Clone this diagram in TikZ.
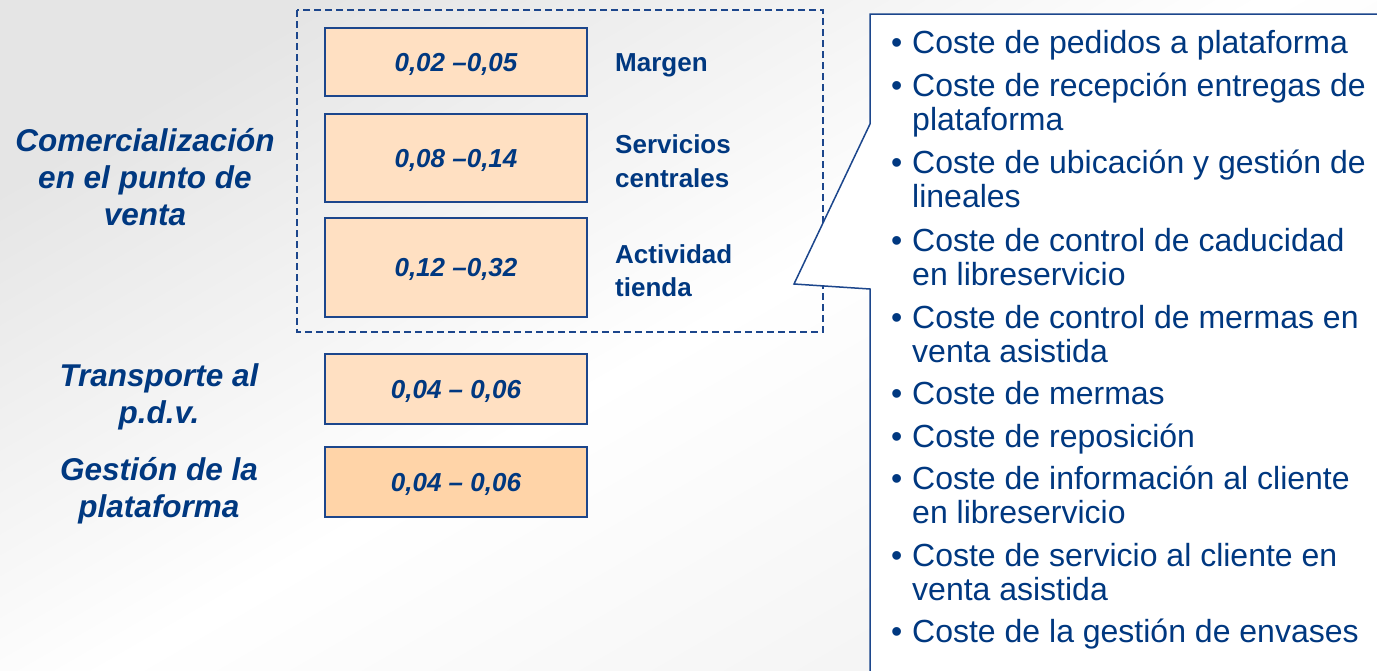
\documentclass[tikz,border=0pt]{standalone}
\usepackage{fontspec}
\setmainfont{Liberation Sans}
\usetikzlibrary{positioning}
\definecolor{txtblue}{RGB}{0,56,128}
\definecolor{lineblue}{RGB}{28,70,140}
\definecolor{peach}{RGB}{255,224,194}
\definecolor{peachdark}{RGB}{255,212,168}
\begin{document}
\begin{tikzpicture}[x=1pt, y=-1pt,
	valbox/.style={draw=lineblue, line width=2pt, fill=peach, minimum width=262pt, inner sep=0pt,
		text depth=0pt, font=\fontsize{26}{30}\selectfont\bfseries\itshape, text=txtblue},
	sidelabel/.style={font=\fontsize{26}{33.5}\selectfont\bfseries, text=txtblue, align=left, inner sep=0pt, yshift=-3pt},
	grouplabel/.style={font=\fontsize{31.5}{37}\selectfont\bfseries\itshape, text=txtblue, align=center, inner sep=0pt},
	costitem/.style={font=\fontsize{32}{34}\selectfont, text=txtblue, align=left, anchor=base west, inner sep=0pt}]
	
	\useasboundingbox (0,0) rectangle (1377,670);
	\clip (0,0) rectangle (1377,670);
	\shade[top color=black!10, bottom color=black!5, middle color=white, shading angle=30] (0,0) rectangle (1377,670);
	
	% punto de venta
	\draw[lineblue, line width=1.8pt, dash pattern=on 7pt off 4pt] (297,10) rectangle (823,332);
	\node[valbox, minimum height=68pt] (margenbox) at (456,62) {0,02 --0,05};
	\node[valbox, minimum height=88pt] (centralbox) at (456,158) {0,08 --0,14};
	\node[valbox, minimum height=99pt] (tiendabox) at (456,267.5) {0,12 --0,32};
	\node[sidelabel, right=27pt of margenbox] (margen) {Margen};
	\node[sidelabel, right=27pt of centralbox] (central) {Servicios\\centrales};
	\node[sidelabel, right=27pt of tiendabox] (tienda) {Actividad\\tienda};
	
	% transporte y plataforma
	\node[valbox, minimum height=70pt] (transbox) at (456,389) {0,04 -- 0,06};
	\node[valbox, minimum height=70pt, fill=peachdark] (platbox) at (456,482) {0,04 -- 0,06};
	
	\node[grouplabel] (comerc) at (145,177) {Comercialización\\en el punto de\\venta};
	\node[grouplabel] (trans) at (159,397) {Transporte al\\p.d.v.};
	\node[grouplabel] (plat) at (159,491) {Gestión de la\\plataforma};
	
	% bocadillo
	\fill[white] (1400,14) -- (870,14) -- (870,124) -- (794,284) -- (870,289) -- (870,700) -- (1400,700) -- cycle;
	\draw[lineblue, line width=1.5pt, line join=miter] (1400,14) -- (870,14) -- (870,124) -- (794,284) -- (870,289) -- (870,700);
	
	\node[costitem] (c1) at (912,53) {\llap{\textbullet\hspace{10pt}}Coste de pedidos a plataforma};
	\node[costitem] (c2) at (912,130) {\llap{\textbullet\hspace{10pt}}Coste de recepción entregas de\\plataforma};
	\node[costitem] (c3) at (912,207) {\llap{\textbullet\hspace{10pt}}Coste de ubicación y gestión de\\lineales};
	\node[costitem] (c4) at (912,285) {\llap{\textbullet\hspace{10pt}}Coste de control de caducidad\\en libreservicio};
	\node[costitem] (c5) at (912,362) {\llap{\textbullet\hspace{10pt}}Coste de control de mermas en\\venta asistida};
	\node[costitem] (c6) at (912,404) {\llap{\textbullet\hspace{10pt}}Coste de mermas};
	\node[costitem] (c7) at (912,447) {\llap{\textbullet\hspace{10pt}}Coste de reposición};
	\node[costitem] (c8) at (912,523) {\llap{\textbullet\hspace{10pt}}Coste de información al cliente\\en libreservicio};
	\node[costitem] (c9) at (912,600) {\llap{\textbullet\hspace{10pt}}Coste de servicio al cliente en\\venta asistida};
	\node[costitem] (c10) at (912,642) {\llap{\textbullet\hspace{10pt}}Coste de la gestión de envases};
\end{tikzpicture}
\end{document}
